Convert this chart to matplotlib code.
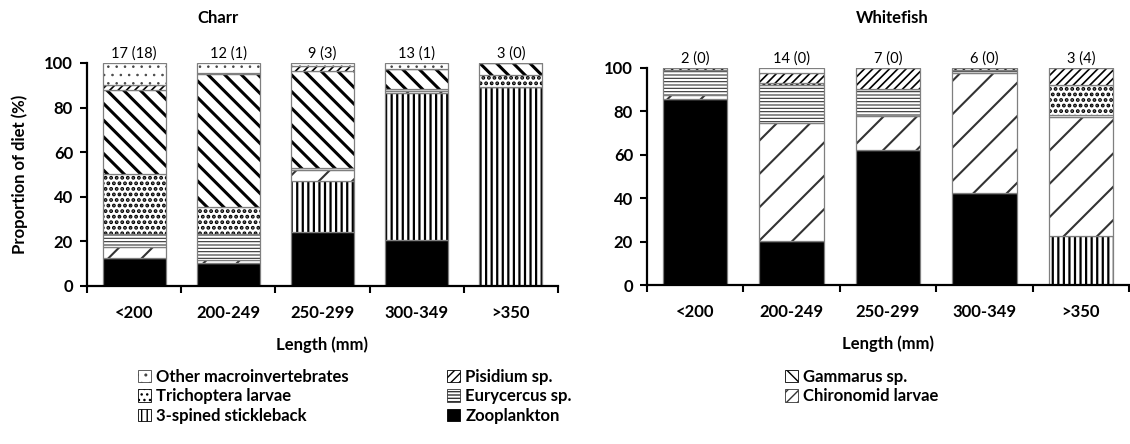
import matplotlib
matplotlib.use('Agg')
import matplotlib.pyplot as plt
from matplotlib.patches import Patch
import numpy as np

plt.rcParams['font.family'] = ['Lato', 'DejaVu Sans']

lengths = ['<200', '200-249', '250-299', '300-349', '>350']
prey = ['Zooplankton', '3-spined stickleback', 'Chironomid larvae', 'Eurycercus sp.',
        'Trichoptera larvae', 'Gammarus sp.', 'Pisidium sp.', 'Other macroinvertebrates']

# % of diet per length class, stacked bottom to top in the order of `prey`
charr_zooplankton = [12.4, 10.5, 24.4, 20.5, 0]
charr_stickleback = [0, 0, 22.9, 65.9, 89.2]
charr_chironomid = [5.0, 1.0, 4.5, 1.1, 0]
charr_eurycercus = [5.8, 11.7, 1.0, 0.7, 0]
charr_trichoptera = [26.9, 12.4, 0, 0, 5.3]
charr_gammarus = [37.6, 59.4, 43.5, 9.0, 5.5]
charr_pisidium = [2.6, 0.5, 2.2, 0, 0]
charr_other = [9.7, 4.5, 1.5, 2.8, 0]
charr_n = ['17 (18)', '12 (1)', '9 (3)', '13 (1)', '3 (0)']

white_zooplankton = [85.8, 20.4, 62.4, 42.5, 0]
white_stickleback = [0, 0, 0, 0, 22.7]
white_chironomid = [1.8, 54.1, 15.5, 55.2, 54.6]
white_eurycercus = [11.6, 17.5, 12.4, 1.2, 1.1]
white_trichoptera = [0, 1.0, 0, 0, 13.9]
white_gammarus = [0, 0, 0, 0, 0]
white_pisidium = [0.8, 4.7, 9.7, 1.1, 7.7]
white_other = [0, 2.3, 0, 0, 0]
white_n = ['2 (0)', '14 (0)', '7 (0)', '6 (0)', '3 (4)']

# facecolor, hatch, hatch linewidth, hatch colour
styles = {
    'Zooplankton': ('black', '', 1.0, 'black'),
    '3-spined stickleback': ('white', '|||', 1.6, 'black'),
    'Chironomid larvae': ('white', '/', 1.5, '#333333'),
    'Eurycercus sp.': ('white', '-----', 0.8, '#333333'),
    'Trichoptera larvae': ('white', '...', 1.9, 'black'),
    'Gammarus sp.': ('white', '\\\\', 2.2, 'black'),
    'Pisidium sp.': ('white', '////', 1.2, 'black'),
    'Other macroinvertebrates': ('white', '..', 0.6, '#444444'),
}

FS = 12
bold = dict(fontweight='bold', fontsize=FS)


def draw_panel(ax, layers, counts):
    x = np.arange(len(lengths))
    bottom = np.zeros(len(lengths))
    for name, vals in zip(prey, layers):
        vals = np.asarray(vals, dtype=float)
        fc, hatch, hlw, hc = styles[name]
        with plt.rc_context({'hatch.linewidth': hlw}):
            bars = ax.bar(x, vals, 0.67, bottom=bottom, color=fc,
                          edgecolor=hc, linewidth=0, hatch=hatch)
            for b in bars:
                if hasattr(b, 'set_hatch_linewidth'):
                    b.set_hatch_linewidth(hlw)
        ax.bar(x, vals, 0.67, bottom=bottom, fill=False,
               edgecolor='#7f7f7f', linewidth=0.9)
        bottom += vals
    for xi, top, s in zip(x, bottom, counts):
        ax.annotate(s, (xi, top), xytext=(0, 1.5), textcoords='offset points',
                    ha='center', va='bottom', fontsize=10.5)

    ax.set_xlim(-0.5, len(lengths) - 0.5)
    ax.set_ylim(0, 100)
    ax.set_yticks(range(0, 101, 20))
    ax.set_xticks(np.arange(len(lengths) + 1) - 0.5)
    ax.set_xticklabels([])
    ax.set_xticks(x, minor=True)
    ax.set_xticklabels(lengths, minor=True, **bold)
    ax.tick_params(axis='x', which='major', direction='out', length=5, width=1.5)
    ax.tick_params(axis='x', which='minor', length=0, pad=14)
    ax.tick_params(axis='y', direction='out', length=5, width=1.5, pad=5)
    for lab in ax.get_yticklabels():
        lab.set_fontweight('bold')
        lab.set_fontsize(FS)
    for side in ['top', 'right']:
        ax.spines[side].set_visible(False)
    for side in ['left', 'bottom']:
        ax.spines[side].set_linewidth(1.6)
    ax.set_xlabel('Length (mm)', labelpad=11, **bold)


W, H = 1130, 444
fig = plt.figure(figsize=(W / 100, H / 100), dpi=100)
ax1 = fig.add_axes([87 / W, 1 - 286 / H, (558 - 87) / W, (286 - 63) / H])
ax2 = fig.add_axes([647 / W, 1 - 285 / H, (1129 - 647) / W, (285 - 68) / H])

draw_panel(ax1, [charr_zooplankton, charr_stickleback, charr_chironomid, charr_eurycercus,
                 charr_trichoptera, charr_gammarus, charr_pisidium, charr_other], charr_n)
draw_panel(ax2, [white_zooplankton, white_stickleback, white_chironomid, white_eurycercus,
                 white_trichoptera, white_gammarus, white_pisidium, white_other], white_n)
ax1.set_ylabel('Proportion of diet (%)', labelpad=12, **bold)

fig.text(218 / W, 1 - 18 / H, 'Charr', ha='center', va='center', **bold)
fig.text(892 / W, 1 - 18 / H, 'Whitefish', ha='center', va='center', **bold)

# legend: three columns, read across rows (top series first)
# the sparse chironomid hatch gets a denser variant so it shows in the small key box
key_hatch = {'Chironomid larvae': '///'}
handles = {}
for name in prey:
    fc, hatch, hlw, hc = styles[name]
    with plt.rc_context({'hatch.linewidth': min(hlw, 1.0)}):
        handles[name] = Patch(facecolor=fc, edgecolor=hc,
                              hatch=key_hatch.get(name, hatch), linewidth=0.6)
columns = [
    (138, ['Other macroinvertebrates', 'Trichoptera larvae', '3-spined stickleback']),
    (447, ['Pisidium sp.', 'Eurycercus sp.', 'Zooplankton']),
    (785, ['Gammarus sp.', 'Chironomid larvae']),
]
for xpix, names in columns:
    fig.legend([handles[n] for n in names], names, loc='upper left',
               bbox_to_anchor=(xpix / W, 1 - 369 / H), frameon=False,
               borderpad=0, borderaxespad=0, handlelength=0.75, handleheight=0.75,
               handletextpad=0.35, labelspacing=0.2,
               prop=dict(weight='bold', size=FS))

fig.savefig('out.png', dpi=100)
